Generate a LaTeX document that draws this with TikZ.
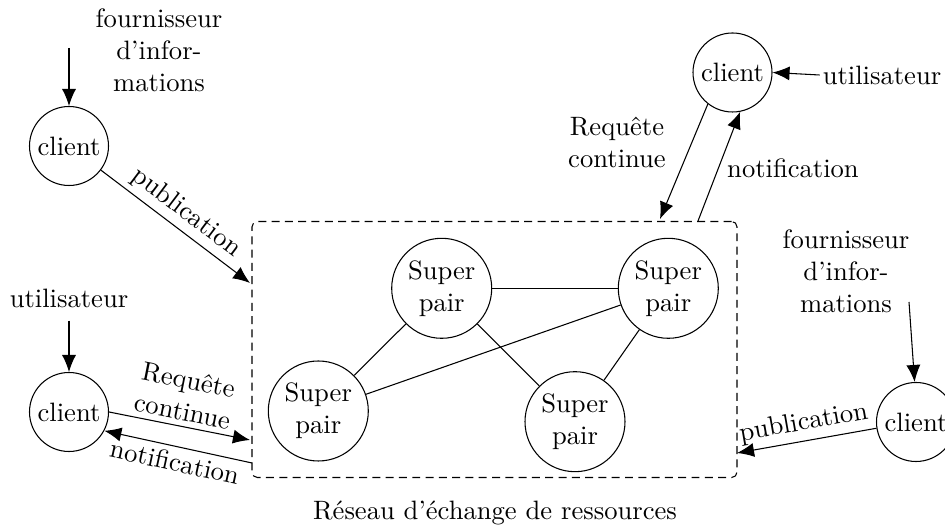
\documentclass[tikz,border=0pt]{standalone}
\usetikzlibrary{arrows.meta}
\begin{document}
\begin{tikzpicture}[x=0.376pt,y=-0.376pt,
  arr/.style={-{Latex[length=6.4pt,width=5.3pt]}},
  cl/.style={draw,circle,minimum size=79*0.376pt,inner sep=0pt},
  sp/.style={draw,circle,minimum size=100*0.376pt,inner sep=1pt,align=center},
  txt/.style={align=center,inner sep=1pt},
  lbl/.style={inner sep=2pt,align=center}]
\useasboundingbox (0,0) rectangle (945,531);
% network box
\node[draw,dash pattern=on 3pt off 2pt,rounded corners=2pt,minimum width=485*0.376pt,minimum height=256*0.376pt] (net) at (494.5,349.5) {};
\node[txt] (cap) at (495,513) {Réseau d'échange de ressources};
% super peers
\node[sp] (s1) at (441.7,288.3) {Super\\pair};
\node[sp] (s2) at (668.3,288.3) {Super\\pair};
\node[sp] (s3) at (318.3,411) {Super\\pair};
\node[sp] (s4) at (575,421.7) {Super\\pair};
\draw (s1) -- (s2);
\draw (s1) -- (s3);
\draw (s1) -- (s4);
\draw (s2) -- (s3);
\draw (s2) -- (s4);
% clients
\node[cl] (c1) at (69,146) {client};
\node[cl] (c2) at (69,412) {client};
\node[cl] (c3) at (732.5,72.5) {client};
\node[cl] (c5) at (916,422) {client};
% texts
\node[txt] (f1) at (159,50) {fournisseur\\d'infor-\\mations};
\node[txt] (f2) at (846,271) {fournisseur\\d'infor-\\mations};
\node[txt] (u1) at (69,298) {utilisateur};
\node[txt] (u2) at (882,75) {utilisateur};
% coordinates on box / free ends
\coordinate (fo1) at (69,48);
\coordinate (fo2) at (909,302);
\coordinate (pubL) at (250,283);
\coordinate (reqL) at (250,440);
\coordinate (notL) at (252,463);
\coordinate (reqT) at (660,219);
\coordinate (notT) at (698,221);
\coordinate (pubR) at (737,453);
% connectors
\draw[arr] (fo1) -- (c1);
\draw[arr] (c1) -- node[lbl,sloped,above] {publication} (pubL);
\draw[arr,shorten <=3.8pt] (u1) -- (c2);
\draw[arr] (c2.0) -- node[lbl,sloped,above] {Requête\\continue} (reqL);
\draw[arr] (notL) -- node[lbl,sloped,below] {notification} (c2.-28);
\draw[arr] (u2.west) -- (c3.east);
\draw[arr] (c3.-128) -- (reqT);
\draw[arr] (notT) -- (c3.-79);
\node[lbl] (rq) at (617,142) {Requête\\continue};
\node[lbl] (nt) at (793,168) {notification};
\draw[arr] (fo2) -- (c5.92);
\draw[arr] (c5.-171) -- node[lbl,sloped,above] {publication} (pubR);
\end{tikzpicture}
\end{document}
